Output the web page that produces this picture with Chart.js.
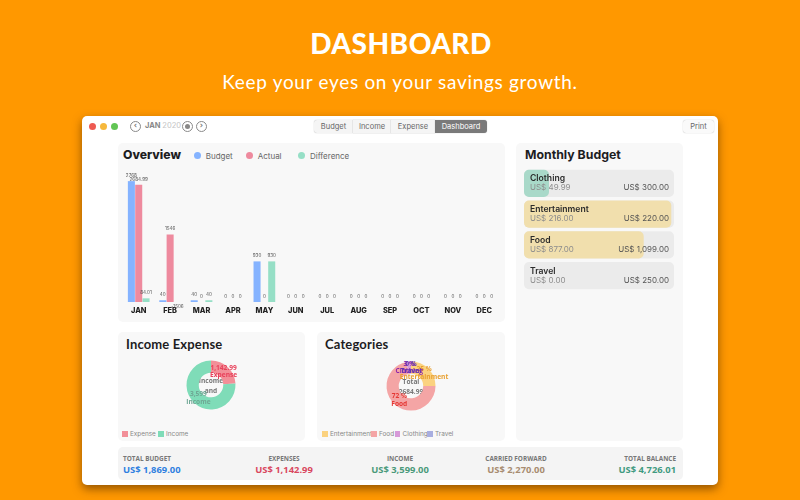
<!DOCTYPE html>
<html>
<head>
<meta charset="utf-8">
<title>Dashboard</title>
<script src="https://cdn.jsdelivr.net/npm/chart.js@4"></script>
<style>
    html, body { margin: 0; padding: 0; }
    body { width: 800px; height: 500px; background: #ff9800; position: relative; overflow: hidden; font-family: Inter, sans-serif; }
    .abs { position: absolute; white-space: nowrap; }
    canvas { position: absolute; }
    #titulo { left: 0; width: 802px; top: 24px; text-align: center; color: #fff; font: 900 28px/38px Lato, sans-serif; letter-spacing: 0.5px; }
    #subtitulo { left: 0; width: 800px; top: 69px; text-align: center; color: #fff; font: 400 19px/26px Lato, sans-serif; letter-spacing: 0.7px; }
    #ventana { left: 82px; top: 116px; width: 636px; height: 369px; background: #fff; border-radius: 5px; box-shadow: 0 4px 10px rgba(60,30,0,.55); }
    .panel { position: absolute; background: #f8f8f8; border-radius: 5px; }
    .dot { position: absolute; width: 7px; height: 7px; border-radius: 50%; top: 122.5px; }
    .nav { position: absolute; top: 121px; width: 9px; height: 9px; border: 1px solid #8a8a8a; border-radius: 50%; color: #777; font: 700 8px/8px "DejaVu Sans", sans-serif; text-align: center; }
    .tab { position: absolute; top: 120px; height: 13px; background: #f5f5f5; border: 0 solid #ddd; box-shadow: 0 0 1px rgba(0,0,0,.35); color: #666; font: 400 7.5px/13px Inter, sans-serif; text-align: center; }
    .heading { position: absolute; color: #1d1d1f; font-weight: 700; white-space: nowrap; }
    .leyenda { position: absolute; color: #666; font-size: 8px; line-height: 10px; white-space: nowrap; }
    .swatch { position: absolute; width: 5.5px; height: 5.5px; }
    .mini { position: absolute; color: #888; font-size: 6.4px; line-height: 8px; white-space: nowrap; }
    .sumLabel { position: absolute; top: 455px; color: #777; font: 700 6.4px/8px "Open Sans", sans-serif; white-space: nowrap; }
    .sumValue { position: absolute; top: 463px; font: 700 9.4px/14px "Open Sans", sans-serif; white-space: nowrap; }
</style>
</head>
<body>
<div class="abs" id="titulo">DASHBOARD</div>
<div class="abs" id="subtitulo">Keep your eyes on your savings growth.</div>
<div class="abs" id="ventana"></div>

<div class="dot" style="left:89px;background:#ee5a52"></div>
<div class="dot" style="left:100px;background:#f6b83c"></div>
<div class="dot" style="left:111px;background:#62c554"></div>
<div class="nav" style="left:130px">‹</div>
<div class="abs" style="left:145px;top:121px;font:700 7.5px/10px Inter,sans-serif;color:#888">JAN <span style="font-weight:400;color:#c4c4c4">2020</span></div>
<div class="nav" style="left:182px"><div style="width:5px;height:5px;margin:2px;background:#888;border-radius:50%"></div></div>
<div class="nav" style="left:196px">›</div>

<div class="tab" style="left:314px;width:39px;border-radius:3px 0 0 3px">Budget</div>
<div class="tab" style="left:353px;width:38px">Income</div>
<div class="tab" style="left:391px;width:44px">Expense</div>
<div class="tab" style="left:435px;width:52px;background:#7a7a7a;color:#fff;border-radius:0 3px 3px 0">Dashboard</div>
<div class="tab" style="left:683px;width:31px;border-radius:3px;background:#fafafa">Print</div>

<div class="panel" style="left:118px;top:143px;width:387px;height:179px"></div>
<div class="panel" style="left:118px;top:332px;width:187px;height:109px"></div>
<div class="panel" style="left:317px;top:332px;width:188px;height:109px"></div>
<div class="panel" style="left:516px;top:143px;width:167px;height:298px"></div>
<div class="panel" style="left:118px;top:447px;width:565px;height:33px;background:#f4f4f4"></div>

<div class="heading" style="left:123px;top:147px;font-size:12.2px;font-weight:800;line-height:16px">Overview</div>
<div class="heading" style="left:126px;top:336px;font-size:13px;line-height:16px;font-family:Lato,sans-serif;letter-spacing:.15px">Income Expense</div>
<div class="heading" style="left:325px;top:336px;font-size:13px;line-height:16px;font-family:Lato,sans-serif;letter-spacing:.15px">Categories</div>
<div class="heading" style="left:525px;top:147px;font-size:12.3px;line-height:16px">Monthly Budget</div>

<div id="leyendas"></div>
<div id="resumen"></div>

<canvas id="overview" style="left:122.8px;top:171px;width:377px;height:149px" width="377" height="149"></canvas>
<canvas id="ingresos" style="left:151px;top:345px;width:120px;height:80px" width="120" height="80"></canvas>
<canvas id="categorias" style="left:351px;top:346px;width:120px;height:80px" width="120" height="80"></canvas>
<canvas id="mensual" style="left:524px;top:167.5px;width:150px;height:123px" width="150" height="123"></canvas>

<script>
// --- DATOS ---
const months = ['JAN', 'FEB', 'MAR', 'APR', 'MAY', 'JUN', 'JUL', 'AUG', 'SEP', 'OCT', 'NOV', 'DEC'];
const budgetValues = [2768, 40, 40, 0, 930, 0, 0, 0, 0, 0, 0, 0];
const actualValues = [2684.99, 1546, 0, 0, 0, 0, 0, 0, 0, 0, 0, 0];
const differenceValues = [84.01, -1506, 40, 0, 930, 0, 0, 0, 0, 0, 0, 0];

const incomeLabels = ['Expense', 'Income'];
const incomeValues = [1142.99, 3599];
const incomeTexts = ['1,142.99', '3,599'];
const incomeColors = ['#f28f98', '#7fdcb8'];
const incomeTextColors = ['#e8405a', '#6fa794'];

const categoryLabels = ['Entertainment', 'Food', 'Clothing', 'Travel'];
const categoryValues = [671, 1933, 81, 0];
const categoryTexts = ['25 %', '72 %', '3 %', '0 %'];
const categoryColors = ['#fbd27f', '#f4a5a5', '#d79ad8', '#a8aee0'];
const categoryTextColors = ['#e8a030', '#e53935', '#8e24aa', '#5e35b1'];

const budgetNames = ['Clothing', 'Entertainment', 'Food', 'Travel'];
const spentAmounts = [49.99, 216, 877, 0];
const limitAmounts = [300, 220, 1099, 250];
const budgetColors = ['#a9d9c9', '#f1dfad', '#f1dfad', '#ebebeb'];

const summaryLabels = ['TOTAL BUDGET', 'EXPENSES', 'INCOME', 'CARRIED FORWARD', 'TOTAL BALANCE'];
const summaryValues = ['US$ 1,869.00', 'US$ 1,142.99', 'US$ 3,599.00', 'US$ 2,270.00', 'US$ 4,726.01'];

// --- PLUGINS ---
// Etiqueta encima de cada barra, las negativas quedan debajo del eje
const barLabels = {
    id: 'barLabels',
    afterDatasetsDraw(chart) {
        const ctx = chart.ctx;
        ctx.save();
        ctx.font = '4.6px Inter, sans-serif';
        ctx.fillStyle = '#555';
        ctx.textAlign = 'center';
        ctx.textBaseline = 'middle';
        chart.data.datasets.forEach((ds, i) => {
            chart.getDatasetMeta(i).data.forEach((bar, j) => {
                const v = ds.data[j];
                const base = chart.scales.y.getPixelForValue(0);
                const y = v < 0 ? base + 4.7 : bar.y - 5.5;
                ctx.fillText(String(v), bar.x, y);
            });
        });
        ctx.restore();
    }
};

// Textos de cada porción y texto del centro (recortado al hueco)
const donutLabels = {
    id: 'donutLabels',
    afterDatasetsDraw(chart, args, opts) {
        const ctx = chart.ctx;
        const arcs = chart.getDatasetMeta(0).data;
        ctx.save();
        ctx.textAlign = 'center';
        ctx.textBaseline = 'middle';
        ctx.font = '700 6.6px "Open Sans", sans-serif';
        ctx.fillStyle = '#777';
        ctx.save();
        ctx.beginPath();
        ctx.arc(arcs[0].x, arcs[0].y, 12.5, 0, Math.PI * 2);
        ctx.clip();
        ctx.fillText(opts.center[0], arcs[0].x, arcs[0].y - 3.9);
        ctx.fillText(opts.center[1], arcs[0].x, arcs[0].y + 6.3);
        ctx.restore();
        arcs.forEach((arc, i) => {
            const p = arc.tooltipPosition();
            ctx.fillStyle = opts.colors[i];
            ctx.fillText(opts.texts[i], p.x, p.y - 3.8);
            ctx.fillText(chart.data.labels[i], p.x, p.y + 3.9);
        });
        ctx.restore();
    }
};

// Nombre y montos sobre cada fila de presupuesto
const rowLabels = {
    id: 'rowLabels',
    afterDatasetsDraw(chart) {
        const ctx = chart.ctx;
        const money = v => 'US$ ' + v.toLocaleString('en-US', { minimumFractionDigits: 2, maximumFractionDigits: 2 });
        ctx.save();
        ctx.textBaseline = 'middle';
        chart.getDatasetMeta(0).data.forEach((bar, i) => {
            ctx.textAlign = 'left';
            ctx.font = '600 8.6px Inter, sans-serif';
            ctx.fillStyle = '#2b2b2b';
            ctx.fillText(budgetNames[i], 6, bar.y - 4.5);
            ctx.font = '400 8px Inter, sans-serif';
            ctx.fillStyle = '#8d8d8d';
            ctx.fillText(money(spentAmounts[i]), 6, bar.y + 4.7);
            ctx.textAlign = 'right';
            ctx.fillStyle = '#555';
            ctx.fillText(money(limitAmounts[i]), 145, bar.y + 4.7);
        });
        ctx.restore();
    }
};

// --- GRAFICOS ---
new Chart(document.getElementById('overview'), {
    type: 'bar',
    plugins: [barLabels],
    data: {
        labels: months,
        datasets: [
            { label: 'Budget', data: budgetValues, backgroundColor: '#85b3ff' },
            { label: 'Actual', data: actualValues, backgroundColor: '#ee8a9e' },
            { label: 'Difference', data: differenceValues, backgroundColor: '#96dfc6' }
        ]
    },
    options: {
        responsive: false,
        animation: false,
        layout: { padding: 0 },
        categoryPercentage: 0.7,
        barPercentage: 0.96,
        plugins: { legend: { display: false }, tooltip: { enabled: false } },
        scales: {
            x: {
                grid: { display: false, drawTicks: false, tickLength: 0 },
                border: { display: false },
                afterFit(scale) { scale.height = 18; },
                ticks: { color: '#222', font: { family: 'Inter', size: 7.4, weight: '800' }, padding: 4, maxRotation: 0, autoSkip: false }
            },
            y: { display: false, min: 0, max: 3000 }
        }
    }
});

function crearDona(id, labels, values, colors, texts, textColors, center) {
    new Chart(document.getElementById(id), {
        type: 'doughnut',
        plugins: [donutLabels],
        data: { labels: labels, datasets: [{ data: values, backgroundColor: colors, borderWidth: 0 }] },
        options: {
            responsive: false,
            animation: false,
            radius: 24.5,
            cutout: '50%',
            plugins: {
                legend: { display: false },
                tooltip: { enabled: false },
                donutLabels: { texts: texts, colors: textColors, center: center }
            }
        }
    });
}
crearDona('ingresos', incomeLabels, incomeValues, incomeColors, incomeTexts, incomeTextColors, ['Income', 'and']);
crearDona('categorias', categoryLabels, categoryValues, categoryColors, categoryTexts, categoryTextColors, ['Total', '2684.99']);

// Progreso de cada categoria sobre su limite, en porcentaje
new Chart(document.getElementById('mensual'), {
    type: 'bar',
    plugins: [rowLabels],
    data: {
        labels: budgetNames,
        datasets: [
            {
                data: spentAmounts.map((v, i) => v / limitAmounts[i] * 100),
                backgroundColor: budgetColors,
                borderRadius: 5,
                borderSkipped: false,
                order: 1
            },
            {
                data: limitAmounts.map(() => 100),
                backgroundColor: '#ebebeb',
                borderRadius: 5,
                borderSkipped: false,
                order: 2
            }
        ]
    },
    options: {
        indexAxis: 'y',
        responsive: false,
        animation: false,
        categoryPercentage: 1,
        barPercentage: 0.89,
        plugins: { legend: { display: false }, tooltip: { enabled: false } },
        scales: {
            x: { display: false, min: 0, max: 100 },
            y: { display: false, stacked: true }
        }
    }
});

// --- LEYENDAS ---
const leyendas = document.getElementById('leyendas');
function agregar(clase, estilo, texto) {
    const el = document.createElement('div');
    el.className = clase;
    el.style.cssText = estilo;
    if (texto) el.innerText = texto;
    leyendas.appendChild(el);
}
['Budget', 'Actual', 'Difference'].forEach((nombre, i) => {
    const colores = ['#85b3ff', '#ee8a9e', '#96dfc6'];
    const xs = [193.8, 245.8, 298.1];
    agregar('dot', `left:${xs[i]}px;top:152px;background:${colores[i]}`);
    agregar('leyenda', `left:${xs[i] + 11.9}px;top:150.5px`, nombre);
});
incomeLabels.forEach((nombre, i) => {
    const xs = [122, 158];
    agregar('swatch', `left:${xs[i]}px;top:431px;background:${incomeColors[i]}`);
    agregar('mini', `left:${xs[i] + 8}px;top:430px`, nombre);
});
categoryLabels.forEach((nombre, i) => {
    const xs = [322, 371, 394.6, 427];
    agregar('swatch', `left:${xs[i]}px;top:431px;background:${categoryColors[i]}`);
    agregar('mini', `left:${xs[i] + 8}px;top:430px`, nombre);
});

// --- RESUMEN INFERIOR ---
const resumen = document.getElementById('resumen');
const summaryColors = ['#2f80e0', '#d9475e', '#4a9a7a', '#a88c70', '#3f9a80'];
const summaryAlign = [
    'left:123px', 'left:284px;transform:translateX(-50%)', 'left:400px;transform:translateX(-50%)',
    'left:516px;transform:translateX(-50%)', 'right:124px'
];
summaryLabels.forEach((nombre, i) => {
    resumen.innerHTML += `<div class="sumLabel" style="${summaryAlign[i]}">${nombre}</div>`;
    resumen.innerHTML += `<div class="sumValue" style="${summaryAlign[i]};color:${summaryColors[i]}">${summaryValues[i]}</div>`;
});
</script>
</body>
</html>
